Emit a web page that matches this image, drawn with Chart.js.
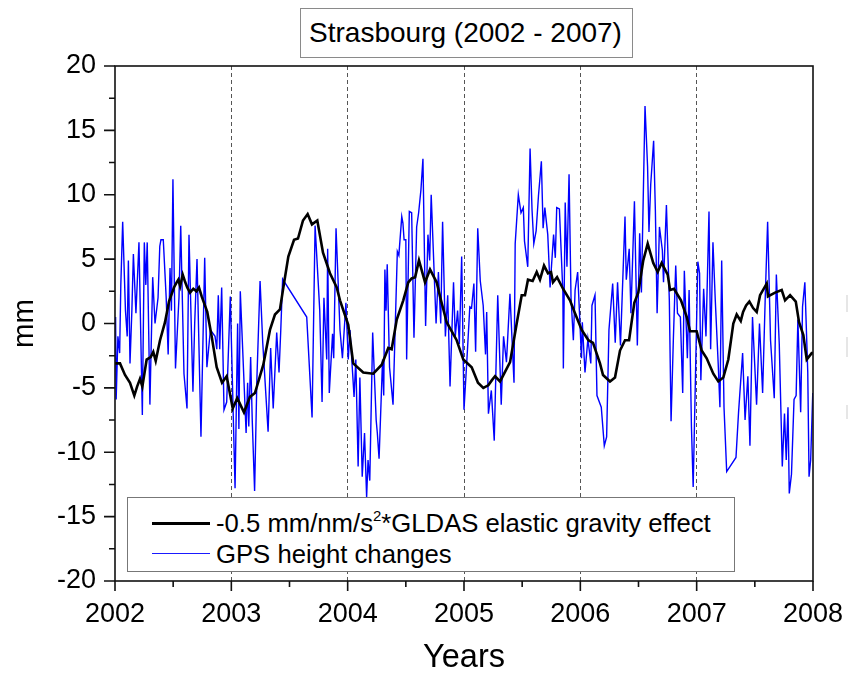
<!DOCTYPE html>
<html>
<head>
<meta charset="utf-8">
<title>Strasbourg (2002 - 2007)</title>
<script src="https://cdn.jsdelivr.net/npm/chart.js@4/dist/chart.umd.min.js"></script>
<style>
    html, body { margin: 0; padding: 0; background: #fff; }
    body { width: 848px; height: 678px; position: relative; overflow: hidden; font-family: "Liberation Sans", sans-serif; color: #000; }
    #myChart { position: absolute; left: 0; top: 0; }
    #title-box { position: absolute; left: 300px; top: 8px; width: 329px; padding-right: 2px; height: 48px; border: 1px solid #8a8a8a; background: #fff;
        font-size: 28px; line-height: 48px; text-align: center; white-space: nowrap; }
    #legend-box { position: absolute; left: 127px; top: 497px; width: 606px; height: 73px; border: 1px solid #777; background: #fff;
        font-size: 25.7px; white-space: nowrap; }
    .row { position: absolute; left: 0; height: 30px; line-height: 30px; }
    .sample { position: absolute; left: 24px; width: 58px; }
    .label { position: absolute; left: 88px; }
    sup { font-size: 15px; line-height: 0; position: relative; top: -1px; vertical-align: super; }
    .speck { position: absolute; left: 846px; width: 2px; background: #e6e6e6; }
</style>
</head>
<body>
<canvas id="myChart" width="848" height="678"></canvas>
<div id="title-box">Strasbourg (2002 - 2007)</div>
<div id="legend-box">
    <div class="row" style="top:10px">
        <div class="sample" style="top:14px;border-top:3px solid #000"></div>
        <div class="label">-0.5&nbsp;mm/nm/s<sup>2</sup>*GLDAS&nbsp;elastic&nbsp;gravity&nbsp;effect</div>
    </div>
    <div class="row" style="top:41px">
        <div class="sample" style="top:14px;border-top:1px solid #1a1aff"></div>
        <div class="label">GPS&nbsp;height&nbsp;changes</div>
    </div>
</div>
<div class="speck" style="top:295px;height:17px"></div>
<div class="speck" style="top:337px;height:20px"></div>
<div class="speck" style="top:405px;height:14px"></div>
<script>
// Values. Times are years after 2002.
var startYear = 2002;
var yearTicks = [2002, 2003, 2004, 2005, 2006, 2007, 2008];
var mmTicks = [-20, -15, -10, -5, 0, 5, 10, 15, 20];

var gldasTimes = [
    0, .043, .086, .129, .166, .19, .215, .235, .272, .307, .329, .35, .387, .43, .464, .507, .53, .544, .56, .582, .6, .621, .645, .673, .7, .722, .745, .793, .831, .874, .92, .96,
    1.012, 1.051, 1.109, 1.16, 1.203, 1.275, 1.332, 1.375, 1.418, 1.447, 1.49, 1.539, 1.573, 1.616, 1.656, 1.693, 1.739, 1.788, 1.848, 1.906, 1.934,
    2.005, 2.048, 2.134, 2.22, 2.293, 2.349, 2.378, 2.422, 2.478, 2.521, 2.55, 2.58, 2.613, 2.665, 2.708, 2.765, 2.794, 2.851, 2.937, 2.994,
    3.066, 3.12, 3.166, 3.209, 3.24, 3.267, 3.31, 3.396, 3.453, 3.496, 3.524, 3.55, 3.59, 3.625, 3.653, 3.688, 3.722, 3.748, 3.765, 3.8, 3.851, 3.911, 3.954,
    4.012, 4.069, 4.109, 4.169, 4.195, 4.255, 4.298, 4.341, 4.384, 4.419, 4.464, 4.498, 4.541, 4.579, 4.627, 4.665, 4.699, 4.751, 4.771, 4.805, 4.865, 4.915, 4.943,
    5.0, 5.043, 5.086, 5.143, 5.186, 5.229, 5.272, 5.315, 5.344, 5.379, 5.399, 5.425, 5.453, 5.485, 5.516, 5.545, 5.602, 5.613, 5.674, 5.731, 5.76, 5.803, 5.852, 5.88, 5.917, 5.946, 5.989, 6.0
];
var gldasValues = [
    -3.1, -3.1, -4, -4.6, -5.6, -4.9, -4.3, -4.9, -2.8, -2.6, -2.2, -2.9, -1.3, .1, 1.7, 2.8, 3.2, 3.4, 2.9, 3.8, 3.3, 2.8, 2.4, 2.7, 2.5, 2.8, 2.1, .9, -1, -3.4, -4.6, -4.1,
    -6.6, -5.8, -6.9, -5.7, -5.4, -3.2, -.5, .7, 1.1, 2.8, 5.2, 6.5, 6.6, 8, 8.5, 7.7, 8, 5.5, 3.9, 2.8, 1.8,
    -.1, -3.1, -3.8, -3.9, -3.2, -1.9, -2, .3, 1.8, 3.2, 3.5, 3.6, 4.9, 3.2, 4.2, 3.2, 2.1, .1, -1.3, -2.8,
    -3.4, -4.6, -5, -4.8, -4.4, -4.1, -4.5, -3, 0, 2.2, 2.2, 3.4, 3.3, 4, 3.4, 4.5, 3.9, 4, 3.2, 3.6, 2.7, 1.8, .8,
    -.5, -1.3, -1.5, -3.1, -4, -4.5, -4.2, -2.1, -1.3, -1.3, 1.6, 2.4, 4.9, 6.2, 4.7, 4, 4.7, 3.8, 2.6, 2.7, 1.8, .5, -.6,
    -.6, -2.1, -2.7, -3.9, -4.5, -4.2, -2.8, 0, .7, .2, .9, 1.4, 1.7, 1.2, .9, 2.2, 3.1, 2.1, 2.4, 2.6, 1.8, 2.2, 1.7, .1, -.9, -2.8, -2.3, -2.3
];

var gpsTimes = [
    0, .005, .01, .025, .04, .05, .066, .09, .105, .115, .129, .145, .158, .18, .206, .235, .252, .265, .277, .30, .324, .344, .37, .385, .395, .415, .44, .457, .473, .485, .498,
    .52, .55, .565, .593, .619, .636, .67, .685, .705, .739, .771, .79, .82, .86, .875, .888, .90, .917, .937, .96, .991,
    1.032, 1.054, 1.065, 1.077, 1.127, 1.14, 1.15, 1.166, 1.18, 1.2, 1.22, 1.247, 1.27, 1.316, 1.338, 1.36, 1.39, 1.41, 1.425, 1.441, 1.648, 1.694,
    1.72, 1.76, 1.78, 1.796, 1.82, 1.828, 1.842, 1.87, 1.88, 1.9, 1.934, 1.955, 1.985,
    2.005, 2.02, 2.055, 2.07, 2.09, 2.105, 2.125, 2.145, 2.163, 2.175, 2.19, 2.215, 2.245, 2.255, 2.27, 2.3, 2.31, 2.32, 2.33, 2.34, 2.36, 2.39, 2.427, 2.44, 2.465, 2.475, 2.485,
    2.5, 2.507, 2.53, 2.55, 2.57, 2.593, 2.61, 2.63, 2.647, 2.67, 2.69, 2.705, 2.718, 2.76, 2.78, 2.8, 2.816, 2.84, 2.86, 2.88, 2.91, 2.925, 2.945, 2.96, 2.98,
    3.0, 3.03, 3.05, 3.065, 3.085, 3.1, 3.118, 3.14, 3.165, 3.185, 3.195, 3.21, 3.235, 3.26, 3.29, 3.32, 3.34, 3.365, 3.395, 3.43, 3.44, 3.467, 3.49,
    3.51, 3.52, 3.548, 3.568, 3.585, 3.6, 3.62, 3.64, 3.665, 3.68, 3.695, 3.72, 3.74, 3.77, 3.785, 3.797, 3.82, 3.85, 3.854, 3.87, 3.885, 3.903, 3.92, 3.94, 3.955, 3.977,
    4.01, 4.017, 4.04, 4.065, 4.09, 4.1, 4.126, 4.143, 4.18, 4.206, 4.226, 4.246, 4.278, 4.3, 4.32, 4.345, 4.384, 4.395, 4.42, 4.435, 4.465, 4.49,
    4.51, 4.525, 4.556, 4.578, 4.59, 4.605, 4.63, 4.645, 4.66, 4.68, 4.705, 4.715, 4.74, 4.765, 4.78, 4.80, 4.82, 4.835, 4.86, 4.88, 4.894, 4.92, 4.935, 4.955, 4.97,
    5.01, 5.025, 5.036, 5.06, 5.08, 5.106, 5.12, 5.14, 5.16, 5.185, 5.2, 5.215, 5.235, 5.258, 5.338, 5.36, 5.395, 5.416, 5.44, 5.458, 5.48,
    5.515, 5.54, 5.567, 5.59, 5.61, 5.635, 5.667, 5.685, 5.71, 5.736, 5.755, 5.77, 5.785, 5.796, 5.815, 5.837, 5.855, 5.87, 5.894, 5.91, 5.93, 5.955, 5.966, 5.98, 5.998
];
var gpsValues = [
    -1, .5, -5.9, -1, -2.3, 3, 7.9, 1, -1, 4.9, -3.1, 1, 5.4, .8, 6.3, -7.1, 6.3, 3, 6.3, -6.3, 3.6, 0, 2, 6, 6.5, 6.5, 2, -2.4, 4.3, 1, 11.2,
    -3.5, 2, 7.6, -3.9, -6.6, 6.9, -5.3, 0, 5, -8.8, 5.1, -3.4, -.5, -1, -2, 2.2, -2, 2.8, -6.7, -6.1, 2.1,
    -12.8, 0, -8.2, 2.5, -8.5, -4.6, -8, -2.6, -7.6, -13, -4.2, 3.3, -1.5, -8.4, -1.9, -6.6, -.7, -3.8, -.5, 3.45, .5, -7.3,
    7.6, 1, -6.1, 2, -2.8, 5.8, -5.4, -.8, -2.7, 7.4, -.5, -2.7, 1.6,
    -2.8, -.5, -5.7, -2.8, -11.1, -4.2, -11.9, -8.5, -13.5, -10.6, -12.2, -.7, -7.5, -8.5, -10.5, -2.8, -5.6, 4.2, 1, 4.6, -3.4, -6.3, 5.6, 5.3, 8.3, 7.8, 6.5,
    6.5, -2.8, 8.7, 8.6, -1.1, 7.5, 8.6, 10.4, 12.8, -.2, 6.9, 4.9, 10, 0, 4, 0, 7.9, -1, 2.2, -4.9, 3.2, -1, 1, -1.6, 5.2,
    -6.7, -2, 1.3, 1.2, 3.1, -2.2, 7.4, 3.3, 1.4, -2.4, .9, -7, -5.2, -9.1, 2.2, -6.3, -1, -3, 2.3, -4.6, 6.2, 10, 8.6,
    9, 6.4, 4.4, 13.6, 8.8, 6.2, 7.2, 9.9, 12.6, 7.4, 9, 6.9, 2.8, 6.9, 5.1, 9, 8.9, 2.4, -3.5, 9.4, 4.4, 11.6, 2, -1.3, 2.6, 4,
    -2.7, .1, -3.8, -1.2, -3.1, 1.4, 2.2, -5.6, -6.5, -9.5, -8.8, -.5, 3.1, -1.5, 3.2, -1.7, 8.3, 3.4, 5.8, .8, 9.5, -1.7,
    7, 2.4, 16.9, 12.2, 7.1, 10.8, 14.2, 8.8, .8, 7.5, 5.7, 3.2, 9.2, 1.8, -7.6, -1.1, 4.5, .8, .5, -5.4, 4.1, -2.7, 2.6, -8, -12.7,
    4.8, 3.9, -4.4, 2.7, -1, 8.7, -2, 6.3, 1.8, -3.1, -6.5, 4.9, -6.5, -11.5, -10.4, -6.9, -2.3, -7.5, -4.1, -9.5, .5,
    -6.3, 0, -5.4, 2.2, 7.9, -1.3, -5.8, 3.8, -1.6, -11.1, -7, -10.6, -6.5, -13.2, -11.7, -5.9, -5.6, .3, -6.9, 1.3, 3.2, -3.8, -11.9, -10.6, -5.4
];

function toPoints(times, values) {
    return times.map(function (t, i) {
        return { x: startYear + t, y: values[i] };
    });
}

// Ticks and frame are drawn by hand since Chart.js has no minor tick length
var framePlugin = {
    id: 'frame',
    afterDatasetsDraw: function (chart) {
        var c = chart.ctx, a = chart.chartArea;
        var xs = chart.scales.x, ys = chart.scales.y;
        c.save();
        c.strokeStyle = '#111';
        c.lineWidth = 1.6;
        c.strokeRect(a.left, a.top, a.right - a.left, a.bottom - a.top);
        c.beginPath();
        xs.ticks.forEach(function (t) {
            var p = xs.getPixelForValue(t.value);
            var len = Number.isInteger(t.value) ? 10 : 6;
            c.moveTo(p, a.bottom); c.lineTo(p, a.bottom + len);
        });
        ys.ticks.forEach(function (t) {
            var p = ys.getPixelForValue(t.value);
            var len = t.value % 5 === 0 ? 11 : 6;
            c.moveTo(a.left, p); c.lineTo(a.left - len, p);
        });
        c.stroke();
        c.restore();
    }
};

var ctx = document.getElementById('myChart').getContext('2d');
var myChart = new Chart(ctx, {
    type: 'line',
    data: {
        datasets: [{
            label: '-0.5 mm/nm/s2*GLDAS elastic gravity effect',
            data: toPoints(gldasTimes, gldasValues),
            borderColor: '#000',
            borderWidth: 2.6,
            pointRadius: 0,
            order: 1
        }, {
            label: 'GPS height changes',
            data: toPoints(gpsTimes, gpsValues),
            borderColor: '#0000ff',
            borderWidth: 1.4,
            pointRadius: 0,
            order: 2
        }]
    },
    options: {
        responsive: false,
        animation: false,
        layout: { padding: { top: 66, right: 35, left: 0, bottom: 0 } },
        plugins: {
            legend: { display: false },
            title: { display: false },
            tooltip: { enabled: false }
        },
        scales: {
            x: {
                type: 'linear',
                min: yearTicks[0],
                max: yearTicks[yearTicks.length - 1],
                afterFit: function (s) { s.height = 97; s.paddingLeft = 0; s.paddingRight = 0; },
                border: { display: false, dash: [4, 3] },
                grid: {
                    drawTicks: false,
                    lineWidth: 1,
                    color: function (c) {
                        var v = c.tick && c.tick.value;
                        return (Number.isInteger(v) && v > yearTicks[0] && v < yearTicks[yearTicks.length - 1]) ? '#555' : 'transparent';
                    }
                },
                ticks: {
                    stepSize: 0.5,
                    autoSkip: false,
                    maxRotation: 0,
                    padding: 17,
                    color: '#000',
                    font: { family: 'Liberation Sans', size: 27 },
                    callback: function (v) { return yearTicks.indexOf(v) >= 0 ? String(v) : ''; }
                },
                title: {
                    display: true,
                    text: 'Years',
                    color: '#000',
                    font: { family: 'Liberation Sans', size: 32.5 },
                    padding: { top: 14, bottom: 0 }
                }
            },
            y: {
                min: mmTicks[0],
                max: mmTicks[mmTicks.length - 1],
                afterFit: function (s) { s.width = 115; s.paddingTop = 0; s.paddingBottom = 0; },
                border: { display: false },
                grid: { display: false, drawTicks: false },
                ticks: {
                    stepSize: 2.5,
                    autoSkip: false,
                    padding: 19,
                    color: '#000',
                    font: { family: 'Liberation Sans', size: 27 },
                    callback: function (v) { return mmTicks.indexOf(v) >= 0 ? String(v) : ''; }
                },
                title: {
                    display: true,
                    text: 'mm',
                    color: '#000',
                    font: { family: 'Liberation Sans', size: 29.5 },
                    padding: { top: 7, bottom: 0 }
                }
            }
        }
    },
    plugins: [framePlugin]
});
</script>
</body>
</html>
